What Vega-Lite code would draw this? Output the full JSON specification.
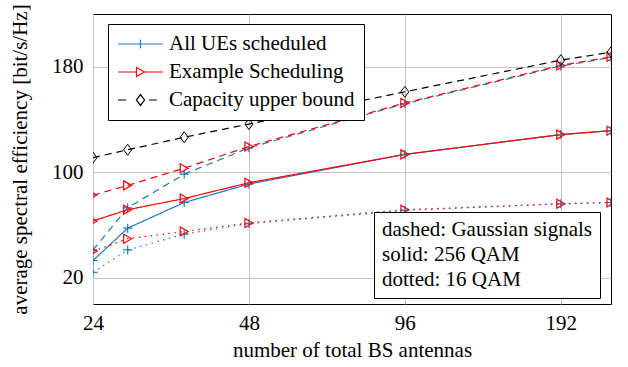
{
  "$schema": "https://vega.github.io/schema/vega-lite/v6.json",
  "width": 518,
  "height": 290,
  "autosize": "none",
  "padding": {"left": 93, "top": 14, "right": 17, "bottom": 63},
  "config": {
    "font": "Liberation Serif",
    "view": {"stroke": "black", "strokeWidth": 1},
    "axis": {
      "labelFont": "Liberation Serif",
      "titleFont": "Liberation Serif",
      "labelFontSize": 21,
      "titleFontSize": 21,
      "titleFontWeight": "normal",
      "labelColor": "black",
      "titleColor": "black",
      "grid": true,
      "gridColor": "#c4c4c4",
      "gridWidth": 1,
      "ticks": false,
      "domain": false
    },
    "legend": {
      "labelFont": "Liberation Serif",
      "labelFontSize": 21,
      "labelColor": "black",
      "strokeColor": "black",
      "fillColor": "white",
      "labelLimit": 400
    }
  },
  "data": {
    "values": [
      {"n": 24, "se": 41, "scheme": "All UEs scheduled", "signal": "Gaussian signals"},
      {"n": 28, "se": 73, "scheme": "All UEs scheduled", "signal": "Gaussian signals"},
      {"n": 36, "se": 98.5, "scheme": "All UEs scheduled", "signal": "Gaussian signals"},
      {"n": 48, "se": 118.5, "scheme": "All UEs scheduled", "signal": "Gaussian signals"},
      {"n": 96, "se": 152, "scheme": "All UEs scheduled", "signal": "Gaussian signals"},
      {"n": 192, "se": 180.5, "scheme": "All UEs scheduled", "signal": "Gaussian signals"},
      {"n": 240, "se": 187, "scheme": "All UEs scheduled", "signal": "Gaussian signals"},
      {"n": 24, "se": 33, "scheme": "All UEs scheduled", "signal": "256 QAM"},
      {"n": 28, "se": 57.5, "scheme": "All UEs scheduled", "signal": "256 QAM"},
      {"n": 36, "se": 77, "scheme": "All UEs scheduled", "signal": "256 QAM"},
      {"n": 48, "se": 91, "scheme": "All UEs scheduled", "signal": "256 QAM"},
      {"n": 96, "se": 113.5, "scheme": "All UEs scheduled", "signal": "256 QAM"},
      {"n": 192, "se": 128.5, "scheme": "All UEs scheduled", "signal": "256 QAM"},
      {"n": 240, "se": 131.5, "scheme": "All UEs scheduled", "signal": "256 QAM"},
      {"n": 24, "se": 24, "scheme": "All UEs scheduled", "signal": "16 QAM"},
      {"n": 28, "se": 41, "scheme": "All UEs scheduled", "signal": "16 QAM"},
      {"n": 36, "se": 53, "scheme": "All UEs scheduled", "signal": "16 QAM"},
      {"n": 48, "se": 61, "scheme": "All UEs scheduled", "signal": "16 QAM"},
      {"n": 96, "se": 71, "scheme": "All UEs scheduled", "signal": "16 QAM"},
      {"n": 192, "se": 76, "scheme": "All UEs scheduled", "signal": "16 QAM"},
      {"n": 240, "se": 77, "scheme": "All UEs scheduled", "signal": "16 QAM"},
      {"n": 24, "se": 82.6, "scheme": "Example Scheduling", "signal": "Gaussian signals"},
      {"n": 28, "se": 90, "scheme": "Example Scheduling", "signal": "Gaussian signals"},
      {"n": 36, "se": 103, "scheme": "Example Scheduling", "signal": "Gaussian signals"},
      {"n": 48, "se": 119.5, "scheme": "Example Scheduling", "signal": "Gaussian signals"},
      {"n": 96, "se": 152.5, "scheme": "Example Scheduling", "signal": "Gaussian signals"},
      {"n": 192, "se": 181, "scheme": "Example Scheduling", "signal": "Gaussian signals"},
      {"n": 240, "se": 187.5, "scheme": "Example Scheduling", "signal": "Gaussian signals"},
      {"n": 24, "se": 63, "scheme": "Example Scheduling", "signal": "256 QAM"},
      {"n": 28, "se": 71.5, "scheme": "Example Scheduling", "signal": "256 QAM"},
      {"n": 36, "se": 80, "scheme": "Example Scheduling", "signal": "256 QAM"},
      {"n": 48, "se": 92, "scheme": "Example Scheduling", "signal": "256 QAM"},
      {"n": 96, "se": 113.5, "scheme": "Example Scheduling", "signal": "256 QAM"},
      {"n": 192, "se": 128.5, "scheme": "Example Scheduling", "signal": "256 QAM"},
      {"n": 240, "se": 131.5, "scheme": "Example Scheduling", "signal": "256 QAM"},
      {"n": 24, "se": 40, "scheme": "Example Scheduling", "signal": "16 QAM"},
      {"n": 28, "se": 49.5, "scheme": "Example Scheduling", "signal": "16 QAM"},
      {"n": 36, "se": 55, "scheme": "Example Scheduling", "signal": "16 QAM"},
      {"n": 48, "se": 61.5, "scheme": "Example Scheduling", "signal": "16 QAM"},
      {"n": 96, "se": 71.5, "scheme": "Example Scheduling", "signal": "16 QAM"},
      {"n": 192, "se": 76, "scheme": "Example Scheduling", "signal": "16 QAM"},
      {"n": 240, "se": 77, "scheme": "Example Scheduling", "signal": "16 QAM"},
      {"n": 24, "se": 111, "scheme": "Capacity upper bound", "signal": "Gaussian signals"},
      {"n": 28, "se": 117, "scheme": "Capacity upper bound", "signal": "Gaussian signals"},
      {"n": 36, "se": 126.5, "scheme": "Capacity upper bound", "signal": "Gaussian signals"},
      {"n": 48, "se": 136.5, "scheme": "Capacity upper bound", "signal": "Gaussian signals"},
      {"n": 96, "se": 161, "scheme": "Capacity upper bound", "signal": "Gaussian signals"},
      {"n": 192, "se": 185, "scheme": "Capacity upper bound", "signal": "Gaussian signals"},
      {"n": 240, "se": 191, "scheme": "Capacity upper bound", "signal": "Gaussian signals"}
    ]
  },
  "encoding": {
    "x": {
      "field": "n",
      "type": "quantitative",
      "scale": {"type": "log", "base": 2, "domain": [24, 240], "nice": false},
      "axis": {"values": [24, 48, 96, 192], "title": "number of total BS antennas", "labelFontSize": 21, "titleFontSize": 21, "labelPadding": 8, "titlePadding": 6, "labelFlush": false}
    },
    "y": {
      "field": "se",
      "type": "quantitative",
      "scale": {"domain": [0, 220], "nice": false, "zero": false},
      "axis": {"values": [20, 100, 180], "title": "average spectral efficiency [bit/s/Hz]", "labelFontSize": 21, "titleFontSize": 21, "labelPadding": 10, "titlePadding": 21}
    }
  },
  "layer": [
    {
      "mark": {"type": "line", "strokeWidth": 1.2, "clip": true},
      "encoding": {
        "color": {
          "field": "scheme",
          "type": "nominal",
          "scale": {"domain": ["All UEs scheduled", "Capacity upper bound", "Example Scheduling"], "range": ["#2077c4", "#000000", "#ff0000"]},
          "legend": null
        },
        "strokeDash": {
          "field": "signal",
          "type": "nominal",
          "scale": {"domain": ["Gaussian signals", "256 QAM", "16 QAM"], "range": [[7, 5], [1, 0], [1.5, 4.5]]},
          "legend": {
            "title": null,
            "orient": "none",
            "legendX": 281,
            "legendY": 198,
            "padding": 8,
            "clipHeight": 19,
            "symbolSize": 0,
            "symbolStrokeWidth": 0,
            "symbolOpacity": 0,
            "labelOffset": -21,
            "rowPadding": 3,
            "labelExpr": "datum.label == 'Gaussian signals' ? 'dashed: Gaussian signals' : datum.label == '256 QAM' ? 'solid: 256 QAM' : 'dotted: 16 QAM'"
          }
        }
      }
    },
    {
      "transform": [{"filter": "datum.scheme == 'All UEs scheduled'"}],
      "mark": {"type": "point", "shape": "M-0.9,0H0.9M0,-0.9V0.9", "filled": false, "size": 100, "strokeWidth": 1.2, "opacity": 1, "clip": true},
      "encoding": {"color": {"field": "scheme", "type": "nominal", "legend": null}}
    },
    {
      "transform": [{"filter": "datum.scheme == 'Example Scheduling'"}],
      "mark": {"type": "point", "shape": "M-0.8,-0.9L0.8,0L-0.8,0.9Z", "filled": false, "size": 100, "strokeWidth": 1.2, "opacity": 1, "clip": true},
      "encoding": {"color": {"field": "scheme", "type": "nominal", "legend": null}}
    },
    {
      "transform": [{"filter": "datum.scheme == 'Capacity upper bound'"}],
      "mark": {"type": "point", "shape": "M0,-1.1L0.8,0L0,1.1L-0.8,0Z", "filled": false, "size": 100, "strokeWidth": 1, "opacity": 1, "clip": true},
      "encoding": {"color": {"field": "scheme", "type": "nominal", "legend": null}}
    },
    {
      "transform": [{"filter": "datum.n == 24 && datum.signal == 'Gaussian signals'"}],
      "mark": {"type": "point", "filled": false, "strokeOpacity": 0, "strokeWidth": 1.2},
      "encoding": {
        "stroke": {
          "field": "scheme",
          "type": "nominal",
          "scale": {"domain": ["All UEs scheduled", "Example Scheduling", "Capacity upper bound"], "range": ["#2077c4", "#ff0000", "#000000"]},
          "legend": {
            "title": null,
            "orient": "none",
            "legendX": 15,
            "legendY": 10,
            "padding": 9,
            "clipHeight": 22,
            "symbolSize": 2025,
            "symbolStrokeWidth": 1.2,
            "symbolOpacity": 1,
            "labelOffset": 5,
            "rowPadding": 6
          }
        },
        "shape": {
          "field": "scheme",
          "type": "nominal",
          "scale": {"domain": ["All UEs scheduled", "Example Scheduling", "Capacity upper bound"], "range": ["M-1,0H1M0,-0.2V0.2", "M-1,0H-0.18M0.18,0H1M-0.18,-0.2L0.18,0L-0.18,0.2Z", "M-1,0H-0.64M0.38,0H0.73M0,-0.24L0.18,0L0,0.24L-0.18,0Z"]},
          "legend": {
            "title": null,
            "orient": "none",
            "legendX": 15,
            "legendY": 10,
            "padding": 9,
            "clipHeight": 22,
            "symbolSize": 2025,
            "symbolStrokeWidth": 1.2,
            "symbolOpacity": 1,
            "labelOffset": 5,
            "rowPadding": 6
          }
        }
      }
    }
  ]
}
